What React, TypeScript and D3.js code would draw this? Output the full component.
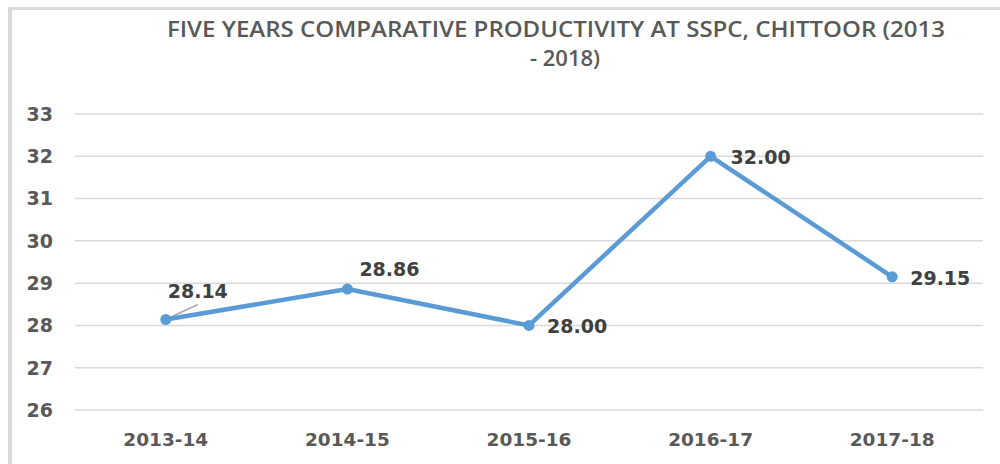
import React, { useEffect, useRef } from 'react';
import * as d3 from 'd3';

const years = ['2013-14', '2014-15', '2015-16', '2016-17', '2017-18'];
const productivity = [28.14, 28.86, 28.0, 32.0, 29.15];
const yTicks = [26, 27, 28, 29, 30, 31, 32, 33];
const titleLines = ['FIVE YEARS COMPARATIVE PRODUCTIVITY AT SSPC, CHITTOOR (2013', '- 2018)'];

// label placement relative to each point (dx, dy, anchor)
const labelOffsets: [number, number, string][] = [
  [32, -22, 'middle'],
  [12, -13, 'start'],
  [18, 8, 'start'],
  [20, 8, 'start'],
  [18, 8, 'start'],
];

const App = () => {
  const chartRef = useRef<SVGSVGElement | null>(null);

  useEffect(() => {
    document.body.style.margin = '0';
    if (!chartRef.current) return;
    const svg = d3.select(chartRef.current);
    svg.selectAll('*').remove();

    const width = 1000;
    const height = 464;
    const margin = { top: 114, right: 17, bottom: 54, left: 75 };
    const innerW = width - margin.left - margin.right;

    svg.append('rect').attr('width', width).attr('height', height).attr('fill', '#fff');

    // frame
    svg.append('rect').attr('x', 8).attr('y', 7).attr('width', width).attr('height', 3).attr('fill', '#d9d9d9');
    svg.append('rect').attr('x', 8).attr('y', 7).attr('width', 4).attr('height', height).attr('fill', '#d9d9d9');

    const x = d3.scaleBand().domain(years).range([margin.left, margin.left + innerW]);
    const y = d3.scaleLinear().domain([26, 33]).range([410, 114]);

    // title
    const title = svg.append('text')
      .attr('text-anchor', 'middle')
      .style('font-family', '"Open Sans", sans-serif')
      .style('font-weight', 600)
      .style('font-size', '22px')
      .style('fill', '#595959');
    titleLines.forEach((t, i) => {
      const ts = title.append('tspan').attr('x', i === 0 ? 556 : 565).attr('y', 37 + i * 29).text(t);
      if (i === 0) ts.attr('textLength', 778).attr('lengthAdjust', 'spacingAndGlyphs');
    });

    // grid
    svg.append('g')
      .selectAll('line')
      .data(yTicks)
      .enter()
      .append('line')
      .attr('x1', margin.left)
      .attr('x2', margin.left + innerW)
      .attr('y1', d => y(d))
      .attr('y2', d => y(d))
      .attr('stroke', '#d9d9d9')
      .attr('stroke-width', 1.5);

    const tickStyle = (sel: any, size: number) => sel
      .style('font-family', '"DejaVu Sans", sans-serif')
      .style('font-weight', 'bold')
      .style('font-size', `${size}px`)
      .style('fill', '#595959');

    svg.append('g')
      .selectAll('text')
      .data(yTicks)
      .enter()
      .append('text')
      .attr('x', 53)
      .attr('y', d => y(d))
      .attr('dy', '0.36em')
      .attr('text-anchor', 'end')
      .call(tickStyle, 19)
      .text(d => d);

    svg.append('g')
      .selectAll('text')
      .data(years)
      .enter()
      .append('text')
      .attr('x', d => (x(d) as number) + x.bandwidth() / 2)
      .attr('y', 446)
      .attr('text-anchor', 'middle')
      .call(tickStyle, 18.5)
      .text(d => d);

    const cx = (i: number) => (x(years[i]) as number) + x.bandwidth() / 2;

    // leader line for first label
    svg.append('line')
      .attr('x1', cx(0) + 2)
      .attr('y1', y(productivity[0]) - 1)
      .attr('x2', cx(0) + 32)
      .attr('y2', y(productivity[0]) - 15)
      .attr('stroke', '#a6a6a6')
      .attr('stroke-width', 1.5);

    const line = d3.line<number>()
      .x((_, i) => cx(i))
      .y(d => y(d));

    svg.append('path')
      .datum(productivity)
      .attr('d', line)
      .attr('fill', 'none')
      .attr('stroke', '#5b9bd5')
      .attr('stroke-width', 4.5)
      .attr('stroke-linejoin', 'round');

    svg.append('g')
      .selectAll('circle')
      .data(productivity)
      .enter()
      .append('circle')
      .attr('cx', (_, i) => cx(i))
      .attr('cy', d => y(d))
      .attr('r', 5.5)
      .attr('fill', '#5b9bd5');

    svg.append('g')
      .selectAll('text')
      .data(productivity)
      .enter()
      .append('text')
      .attr('x', (_, i) => cx(i) + labelOffsets[i][0])
      .attr('y', (d, i) => y(d) + labelOffsets[i][1])
      .attr('text-anchor', (_, i) => labelOffsets[i][2])
      .style('font-family', '"DejaVu Sans", sans-serif')
      .style('font-weight', 'bold')
      .style('font-size', '19px')
      .style('fill', '#404040')
      .text(d => d.toFixed(2));
  }, []);

  return <svg ref={chartRef} width={1000} height={464} style={{ display: 'block' }} />;
};

export default App;
